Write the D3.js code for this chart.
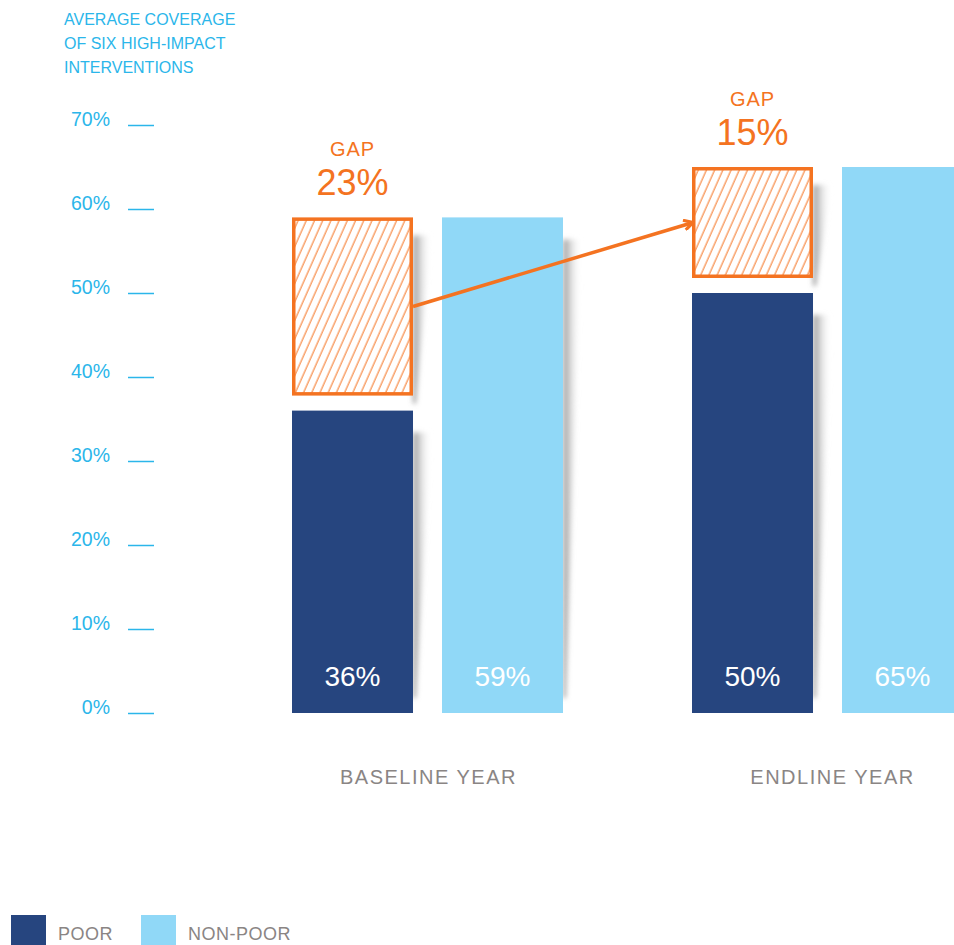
<!DOCTYPE html>
<html>
<head>
<meta charset="utf-8">
<script src="https://cdn.jsdelivr.net/npm/d3@7"></script>
<style>
  html, body { margin: 0; padding: 0; background: #fff; }
  svg { display: block; font-family: "Liberation Sans", Arial, sans-serif; }
</style>
</head>
<body>
<div class="chart"></div>
<script>
// data
const years = ['BASELINE YEAR', 'ENDLINE YEAR'];
const groups = ['POOR', 'NON-POOR'];
const poorValues = [36, 50];
const nonPoorValues = [59, 65];
const gapValues = [23, 15];
const yTicks = [0, 10, 20, 30, 40, 50, 60, 70];
const titleLines = ['AVERAGE COVERAGE', 'OF SIX HIGH-IMPACT', 'INTERVENTIONS'];

const colors = {
    poor: '#26457f',
    nonPoor: '#90d8f7',
    gap: '#f47321',
    axis: '#2bb6ea',
    grey: '#8a8584'
};

const width = 954;
const height = 945;

const svg = d3.select('.chart')
    .append('svg')
    .attr('width', width)
    .attr('height', height);

const defs = svg.append('defs');

// diagonal hatch for the gap boxes
const hatch = defs.append('pattern')
    .attr('id', 'hatch')
    .attr('patternUnits', 'userSpaceOnUse')
    .attr('width', 7.5)
    .attr('height', 10)
    .attr('patternTransform', 'rotate(24)');
hatch.append('line')
    .attr('x1', 2).attr('y1', 0)
    .attr('x2', 2).attr('y2', 10)
    .attr('stroke', colors.gap)
    .attr('stroke-width', 1);

// soft shadow to the right of each bar
const grad = defs.append('linearGradient')
    .attr('id', 'shadowGrad')
    .attr('x1', 0).attr('x2', 1).attr('y1', 0).attr('y2', 0);
grad.append('stop').attr('offset', '0%').attr('stop-color', '#8a8a8a').attr('stop-opacity', 0.95);
grad.append('stop').attr('offset', '100%').attr('stop-color', '#ffffff').attr('stop-opacity', 0);

defs.append('filter')
    .attr('id', 'blur')
    .attr('x', '-50%').attr('y', '-10%')
    .attr('width', '200%').attr('height', '120%')
    .append('feGaussianBlur')
    .attr('stdDeviation', 2.5);

defs.append('marker')
    .attr('id', 'arrowHead')
    .attr('viewBox', '0 0 12 12')
    .attr('refX', 11)
    .attr('refY', 6)
    .attr('markerWidth', 12)
    .attr('markerHeight', 12)
    .attr('markerUnits', 'userSpaceOnUse')
    .attr('orient', 'auto')
    .append('path')
    .attr('d', 'M2,1 L11,6 L2,11')
    .attr('fill', 'none')
    .attr('stroke', colors.gap)
    .attr('stroke-width', 3.2)
    .attr('stroke-linecap', 'butt');

// scales
const x0 = d3.scaleBand()
    .domain(years)
    .range([292, 963])
    .paddingInner(0.3225);

const x1 = d3.scaleBand()
    .domain(groups)
    .range([0, x0.bandwidth()])
    .paddingInner(0.1933);

const y = d3.scaleLinear()
    .domain([0, 70])
    .range([713, 125]);

// title
svg.append('text')
    .attr('fill', colors.axis)
    .style('font-size', '16px')
    .selectAll('tspan')
    .data(titleLines)
    .enter()
    .append('tspan')
    .attr('x', 64)
    .attr('y', (d, i) => 25 + i * 24)
    .text(d => d);

// y axis
const yAxis = svg.append('g')
    .attr('class', 'y-axis')
    .attr('transform', 'translate(154,0)')
    .call(d3.axisLeft(y)
        .tickValues(yTicks)
        .tickSize(26)
        .tickPadding(18)
        .tickFormat(d => d + '%'));
yAxis.select('.domain').remove();
yAxis.selectAll('line')
    .attr('stroke', colors.axis)
    .attr('stroke-width', 1.5);
yAxis.selectAll('text')
    .attr('fill', colors.axis)
    .attr('dy', '0.05em')
    .style('font-size', '19.5px')
    .style('font-family', '"Liberation Sans", Arial, sans-serif');

// bar data
const bars = [];
years.forEach((yr, i) => {
    bars.push({ year: yr, group: 'POOR', value: poorValues[i], color: colors.poor });
    bars.push({ year: yr, group: 'NON-POOR', value: nonPoorValues[i], color: colors.nonPoor });
});

const barX = d => x0(d.year) + x1(d.group);
const bw = x1.bandwidth();
const gapSpace = 15;

const gaps = years.map((yr, i) => ({
    year: yr,
    gap: gapValues[i],
    top: y(nonPoorValues[i]),
    bottom: y(poorValues[i]) - gapSpace,
    x: x0(yr) + x1('POOR')
}));

// shadows
function wedge(xr, top, bottom) {
    return `M${xr},${top} L${xr + 18},${top} L${xr + 3},${bottom} L${xr},${bottom} Z`;
}
const shadowLayer = svg.append('g').attr('filter', 'url(#blur)');
shadowLayer.selectAll('.bar-shadow')
    .data(bars)
    .enter()
    .append('path')
    .attr('class', 'bar-shadow')
    .attr('d', d => wedge(barX(d) + bw, y(d.value) + 22, y(0) - 15))
    .attr('fill', 'url(#shadowGrad)');
shadowLayer.selectAll('.gap-shadow')
    .data(gaps)
    .enter()
    .append('path')
    .attr('class', 'gap-shadow')
    .attr('d', d => wedge(d.x + bw, d.top + 18, d.bottom + 8))
    .attr('fill', 'url(#shadowGrad)');

// bars
svg.append('g')
    .selectAll('.bar')
    .data(bars)
    .enter()
    .append('rect')
    .attr('class', 'bar')
    .attr('x', barX)
    .attr('y', d => y(d.value))
    .attr('width', bw)
    .attr('height', d => y(0) - y(d.value))
    .attr('fill', d => d.color);

// value labels inside bars
svg.append('g')
    .selectAll('.value')
    .data(bars)
    .enter()
    .append('text')
    .attr('class', 'value')
    .attr('x', d => barX(d) + bw / 2)
    .attr('y', 686)
    .attr('text-anchor', 'middle')
    .attr('fill', '#fff')
    .style('font-size', '28px')
    .text(d => d.value + '%');

// gap boxes
const sw = 3.5;
const gapG = svg.append('g')
    .selectAll('.gap')
    .data(gaps)
    .enter()
    .append('g')
    .attr('class', 'gap');

gapG.append('rect')
    .attr('x', d => d.x + sw / 2)
    .attr('y', d => d.top + sw / 2)
    .attr('width', bw - sw)
    .attr('height', d => d.bottom - d.top - sw)
    .attr('fill', '#fff');
gapG.append('rect')
    .attr('x', d => d.x + sw / 2)
    .attr('y', d => d.top + sw / 2)
    .attr('width', bw - sw)
    .attr('height', d => d.bottom - d.top - sw)
    .attr('fill', 'url(#hatch)')
    .attr('stroke', colors.gap)
    .attr('stroke-width', sw);

gapG.append('text')
    .attr('x', d => d.x + bw / 2)
    .attr('y', d => d.top - 61)
    .attr('text-anchor', 'middle')
    .attr('fill', colors.gap)
    .style('font-size', '20px')
    .style('letter-spacing', '1px')
    .text('GAP');

gapG.append('text')
    .attr('x', d => d.x + bw / 2)
    .attr('y', d => d.top - 22)
    .attr('text-anchor', 'middle')
    .attr('fill', colors.gap)
    .style('font-size', '36px')
    .text(d => d.gap + '%');

// arrow from one gap to the next
const a = gaps[0], b = gaps[1];
svg.append('line')
    .attr('x1', a.x + bw)
    .attr('y1', (a.top + a.bottom) / 2)
    .attr('x2', b.x + 1)
    .attr('y2', (b.top + b.bottom) / 2)
    .attr('stroke', colors.gap)
    .attr('stroke-width', 3.5)
    .attr('marker-end', 'url(#arrowHead)');

// year labels
svg.append('g')
    .selectAll('.year-label')
    .data(years)
    .enter()
    .append('text')
    .attr('class', 'year-label')
    .attr('x', (d, i) => x0(d) + x0.bandwidth() / 2 + (i === 0 ? 1 : 5))
    .attr('y', 784)
    .attr('text-anchor', 'middle')
    .attr('fill', colors.grey)
    .style('font-size', '20px')
    .style('letter-spacing', '1.5px')
    .text(d => d);

// legend
const legend = svg.append('g')
    .selectAll('.legend-item')
    .data(groups)
    .enter()
    .append('g')
    .attr('class', 'legend-item')
    .attr('transform', (d, i) => `translate(${11 + i * 130},915)`);
legend.append('rect')
    .attr('width', 35)
    .attr('height', 35)
    .attr('fill', (d, i) => i === 0 ? colors.poor : colors.nonPoor);
legend.append('text')
    .attr('x', 47)
    .attr('y', 25)
    .attr('fill', colors.grey)
    .style('font-size', '18px')
    .style('letter-spacing', '0.5px')
    .text(d => d);
</script>
</body>
</html>
